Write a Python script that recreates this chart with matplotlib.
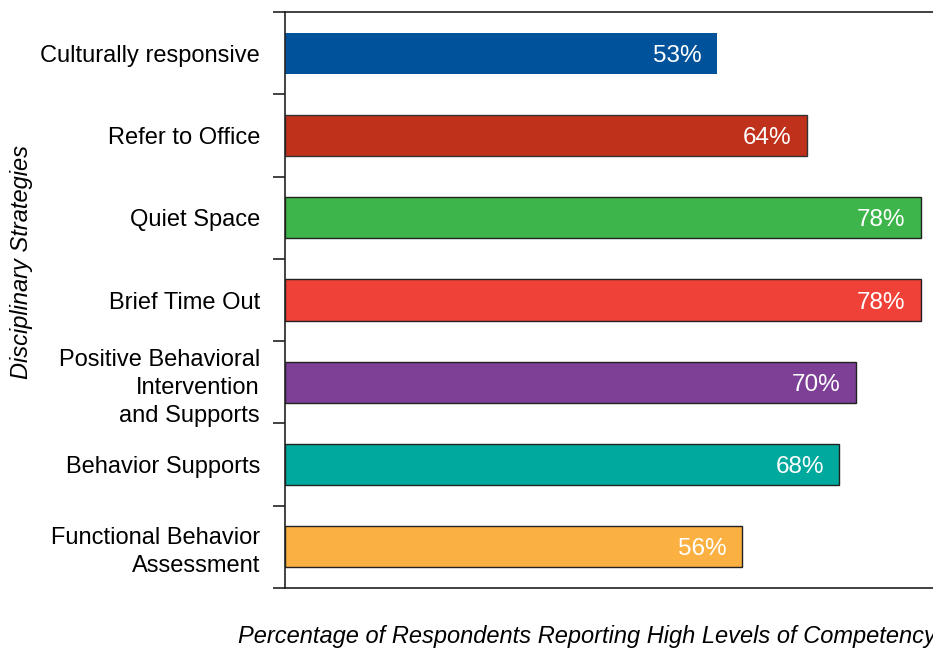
import matplotlib
matplotlib.use("Agg")
import matplotlib.pyplot as plt
import numpy as np

plt.rcParams['font.family'] = ['Liberation Sans', 'DejaVu Sans']

categories = ["Culturally responsive", "Refer to Office", "Quiet Space", "Brief Time Out",
              "Positive Behavioral\nIntervention\nand Supports", "Behavior Supports",
              "Functional Behavior\nAssessment"]
values = [53, 64, 78, 78, 70, 68, 56]
colors = ["#00539B", "#C0311C", "#3DB54B", "#EF4137", "#7E3F97", "#00A99E", "#FBB042"]
edges = ["none", "#333333", "#222222", "#222222", "#222222", "#222222", "#222222"]

fig = plt.figure(figsize=(9.33, 6.48), dpi=100)
W, H = 933, 648
ax = fig.add_axes([285 / W, 1 - 588 / H, 1 - 285 / W, (588 - 12) / H])

y = np.arange(len(categories))
for i, (v, c, e) in enumerate(zip(values, colors, edges)):
    ax.barh(i, v, height=0.5, color=c, edgecolor=e, linewidth=1.0 if e != "none" else 0)
    ax.text(v - 1.9, i, f"{v}%", color="white", ha="right", va="center_baseline", fontsize=17.5)

ax.set_ylim(len(categories) - 0.5, -0.5)
ax.set_xlim(0, (W - 285) / 8.154)

ax.set_yticks(y)
ax.set_yticklabels(categories, fontsize=17, ha="right", multialignment="right", linespacing=1.35)
ax.tick_params(axis="y", which="major", length=0, pad=18)
ax.set_yticks(np.arange(-0.5, len(categories) + 0.5, 1), minor=True)
ax.tick_params(axis="y", which="minor", length=9, width=1.2, color="#222222", direction="out")
ax.set_xticks([])

for s in ["left", "bottom", "top"]:
    ax.spines[s].set_color("#222222")
    ax.spines[s].set_linewidth(1.2)
ax.spines["right"].set_visible(False)

fig.text(22 / W, 1 - 262 / H, "Disciplinary Strategies", rotation=90, style="italic",
         fontsize=17, ha="center", va="center")
fig.text(238 / W, 1 - 636 / H, "Percentage of Respondents Reporting High Levels of Competency",
         style="italic", fontsize=17, ha="left", va="center")

fig.savefig("out.png", dpi=100)
